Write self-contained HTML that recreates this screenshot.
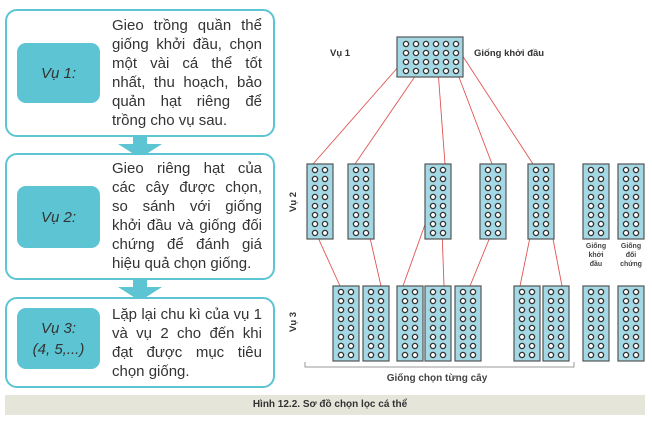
<!DOCTYPE html>
<html><head><meta charset="utf-8"><style>
body{margin:0;width:652px;height:424px;background:#fff;position:relative;overflow:hidden;font-family:"Liberation Sans",sans-serif}
.box{position:absolute;left:5px;width:266px;border:2px solid #5cc4d2;border-radius:12px;background:#fff}
.lab{position:absolute;left:10px;width:83px;background:#5cc4d2;border-radius:9px;display:flex;align-items:center;justify-content:center;text-align:center;font-style:italic;font-size:15px;color:#333;line-height:21px}
.txt{position:absolute;left:105px;width:150px;font-size:15px;line-height:19px;color:#333;text-align:justify;text-align-last:left}
.arr{position:absolute;left:118px;width:0;height:0;border-left:22px solid transparent;border-right:22px solid transparent;border-top:14px solid #5cc4d2}
.arr:before{content:"";position:absolute;left:-7px;top:-22px;width:14px;height:9px;background:#5cc4d2}
</style></head><body>
<div class="box" style="top:9px;height:124px"><div class="lab" style="top:32px;height:60px">Vụ 1:</div><div class="txt" style="top:5px">Gieo trồng quần thể giống khởi đầu, chọn một vài cá thể tốt nhất, thu hoạch, bảo quản hạt riêng để trồng cho vụ sau.</div></div>
<div class="arr" style="top:144px"></div>
<div class="box" style="top:153px;height:123px"><div class="lab" style="top:31px;height:62px">Vụ 2:</div><div class="txt" style="top:4px">Gieo riêng hạt của các cây được chọn, so sánh với giống khởi đầu và giống đối chứng để đánh giá hiệu quả chọn giống.</div></div>
<div class="arr" style="top:287px"></div>
<div class="box" style="top:297px;height:87px"><div class="lab" style="top:9px;height:61px">Vụ 3:<br>(4, 5,...)</div><div class="txt" style="top:6px">Lặp lại chu kì của vụ 1 và vụ 2 cho đến khi đạt được mục tiêu chọn giống.</div></div>
<div style="position:absolute;left:5px;top:395px;width:640px;height:20px;background:#e6e5da;font-size:10px;font-weight:bold;color:#333;text-align:center;line-height:20px;padding-left:10px;box-sizing:border-box">Hình 12.2. Sơ đồ chọn lọc cá thể</div>
<svg width="652" height="424" style="position:absolute;left:0;top:0" font-family="Liberation Sans,sans-serif">
<defs>
<g id="c"><circle r="2.6" fill="#fff" stroke="#333" stroke-width="1.3"/></g>
<g id="col2"><rect width="26" height="75" fill="#a3d8e4" stroke="#555" stroke-width="1.2"/>
<g id="r"><use href="#c" x="8" y="6"/><use href="#c" x="18" y="6"/></g>
<use href="#r" y="9"/><use href="#r" y="18"/><use href="#r" y="27"/><use href="#r" y="36"/><use href="#r" y="45"/><use href="#r" y="54"/><use href="#r" y="63"/></g>
<g id="tr"><use href="#c" x="9" y="7"/><use href="#c" x="19" y="7"/><use href="#c" x="29" y="7"/><use href="#c" x="39" y="7"/><use href="#c" x="49" y="7"/><use href="#c" x="59" y="7"/></g>
</defs>
<g stroke="#e05555" stroke-width="0.9" fill="none">
<line x1="399" y1="66" x2="313" y2="164"/><line x1="418" y1="72" x2="355" y2="164"/><line x1="438" y1="70" x2="445" y2="164"/><line x1="457" y1="72" x2="492" y2="164"/><line x1="462" y1="55" x2="533" y2="164"/>
<line x1="315" y1="231" x2="340" y2="286"/><line x1="368" y1="229" x2="381" y2="286"/><line x1="432" y1="205" x2="403" y2="286"/><line x1="442" y1="230" x2="444" y2="286"/><line x1="497" y1="220" x2="470" y2="286"/><line x1="535" y1="213" x2="520" y2="286"/><line x1="548" y1="213" x2="562" y2="286"/>
</g>
<rect x="397" y="37" width="66" height="40" fill="#a3d8e4" stroke="#555" stroke-width="1.2"/>
<use href="#tr" x="397" y="37"/><use href="#tr" x="397" y="46"/><use href="#tr" x="397" y="55"/><use href="#tr" x="397" y="64"/>
<use href="#col2" x="307" y="164"/><use href="#col2" x="348" y="164"/><use href="#col2" x="425" y="164"/><use href="#col2" x="480" y="164"/><use href="#col2" x="528" y="164"/><use href="#col2" x="583" y="164"/><use href="#col2" x="618" y="164"/>
<use href="#col2" x="333" y="286"/><use href="#col2" x="363" y="286"/><use href="#col2" x="397" y="286"/><use href="#col2" x="425" y="286"/><use href="#col2" x="455" y="286"/><use href="#col2" x="514" y="286"/><use href="#col2" x="543" y="286"/><use href="#col2" x="583" y="286"/><use href="#col2" x="618" y="286"/>
<g fill="#333" font-size="9.5" font-weight="bold">
<text x="330" y="56">Vụ 1</text>
<text x="474" y="56">Giống khởi đầu</text>
<text transform="translate(296,212) rotate(-90)">Vụ 2</text>
<text transform="translate(296,332) rotate(-90)">Vụ 3</text>
</g>
<g fill="#444" font-size="7" font-weight="bold" text-anchor="middle">
<text x="596" y="248">Giống</text><text x="596" y="257">khởi</text><text x="596" y="266">đầu</text>
<text x="631" y="248">Giống</text><text x="631" y="257">đối</text><text x="631" y="266">chứng</text>
</g>
<path d="M305 362 V367 H574 V362" fill="none" stroke="#999" stroke-width="1"/>
<text x="437" y="381" text-anchor="middle" font-size="10" font-weight="bold" fill="#444">Giống chọn từng cây</text>
</svg>
</body></html>
